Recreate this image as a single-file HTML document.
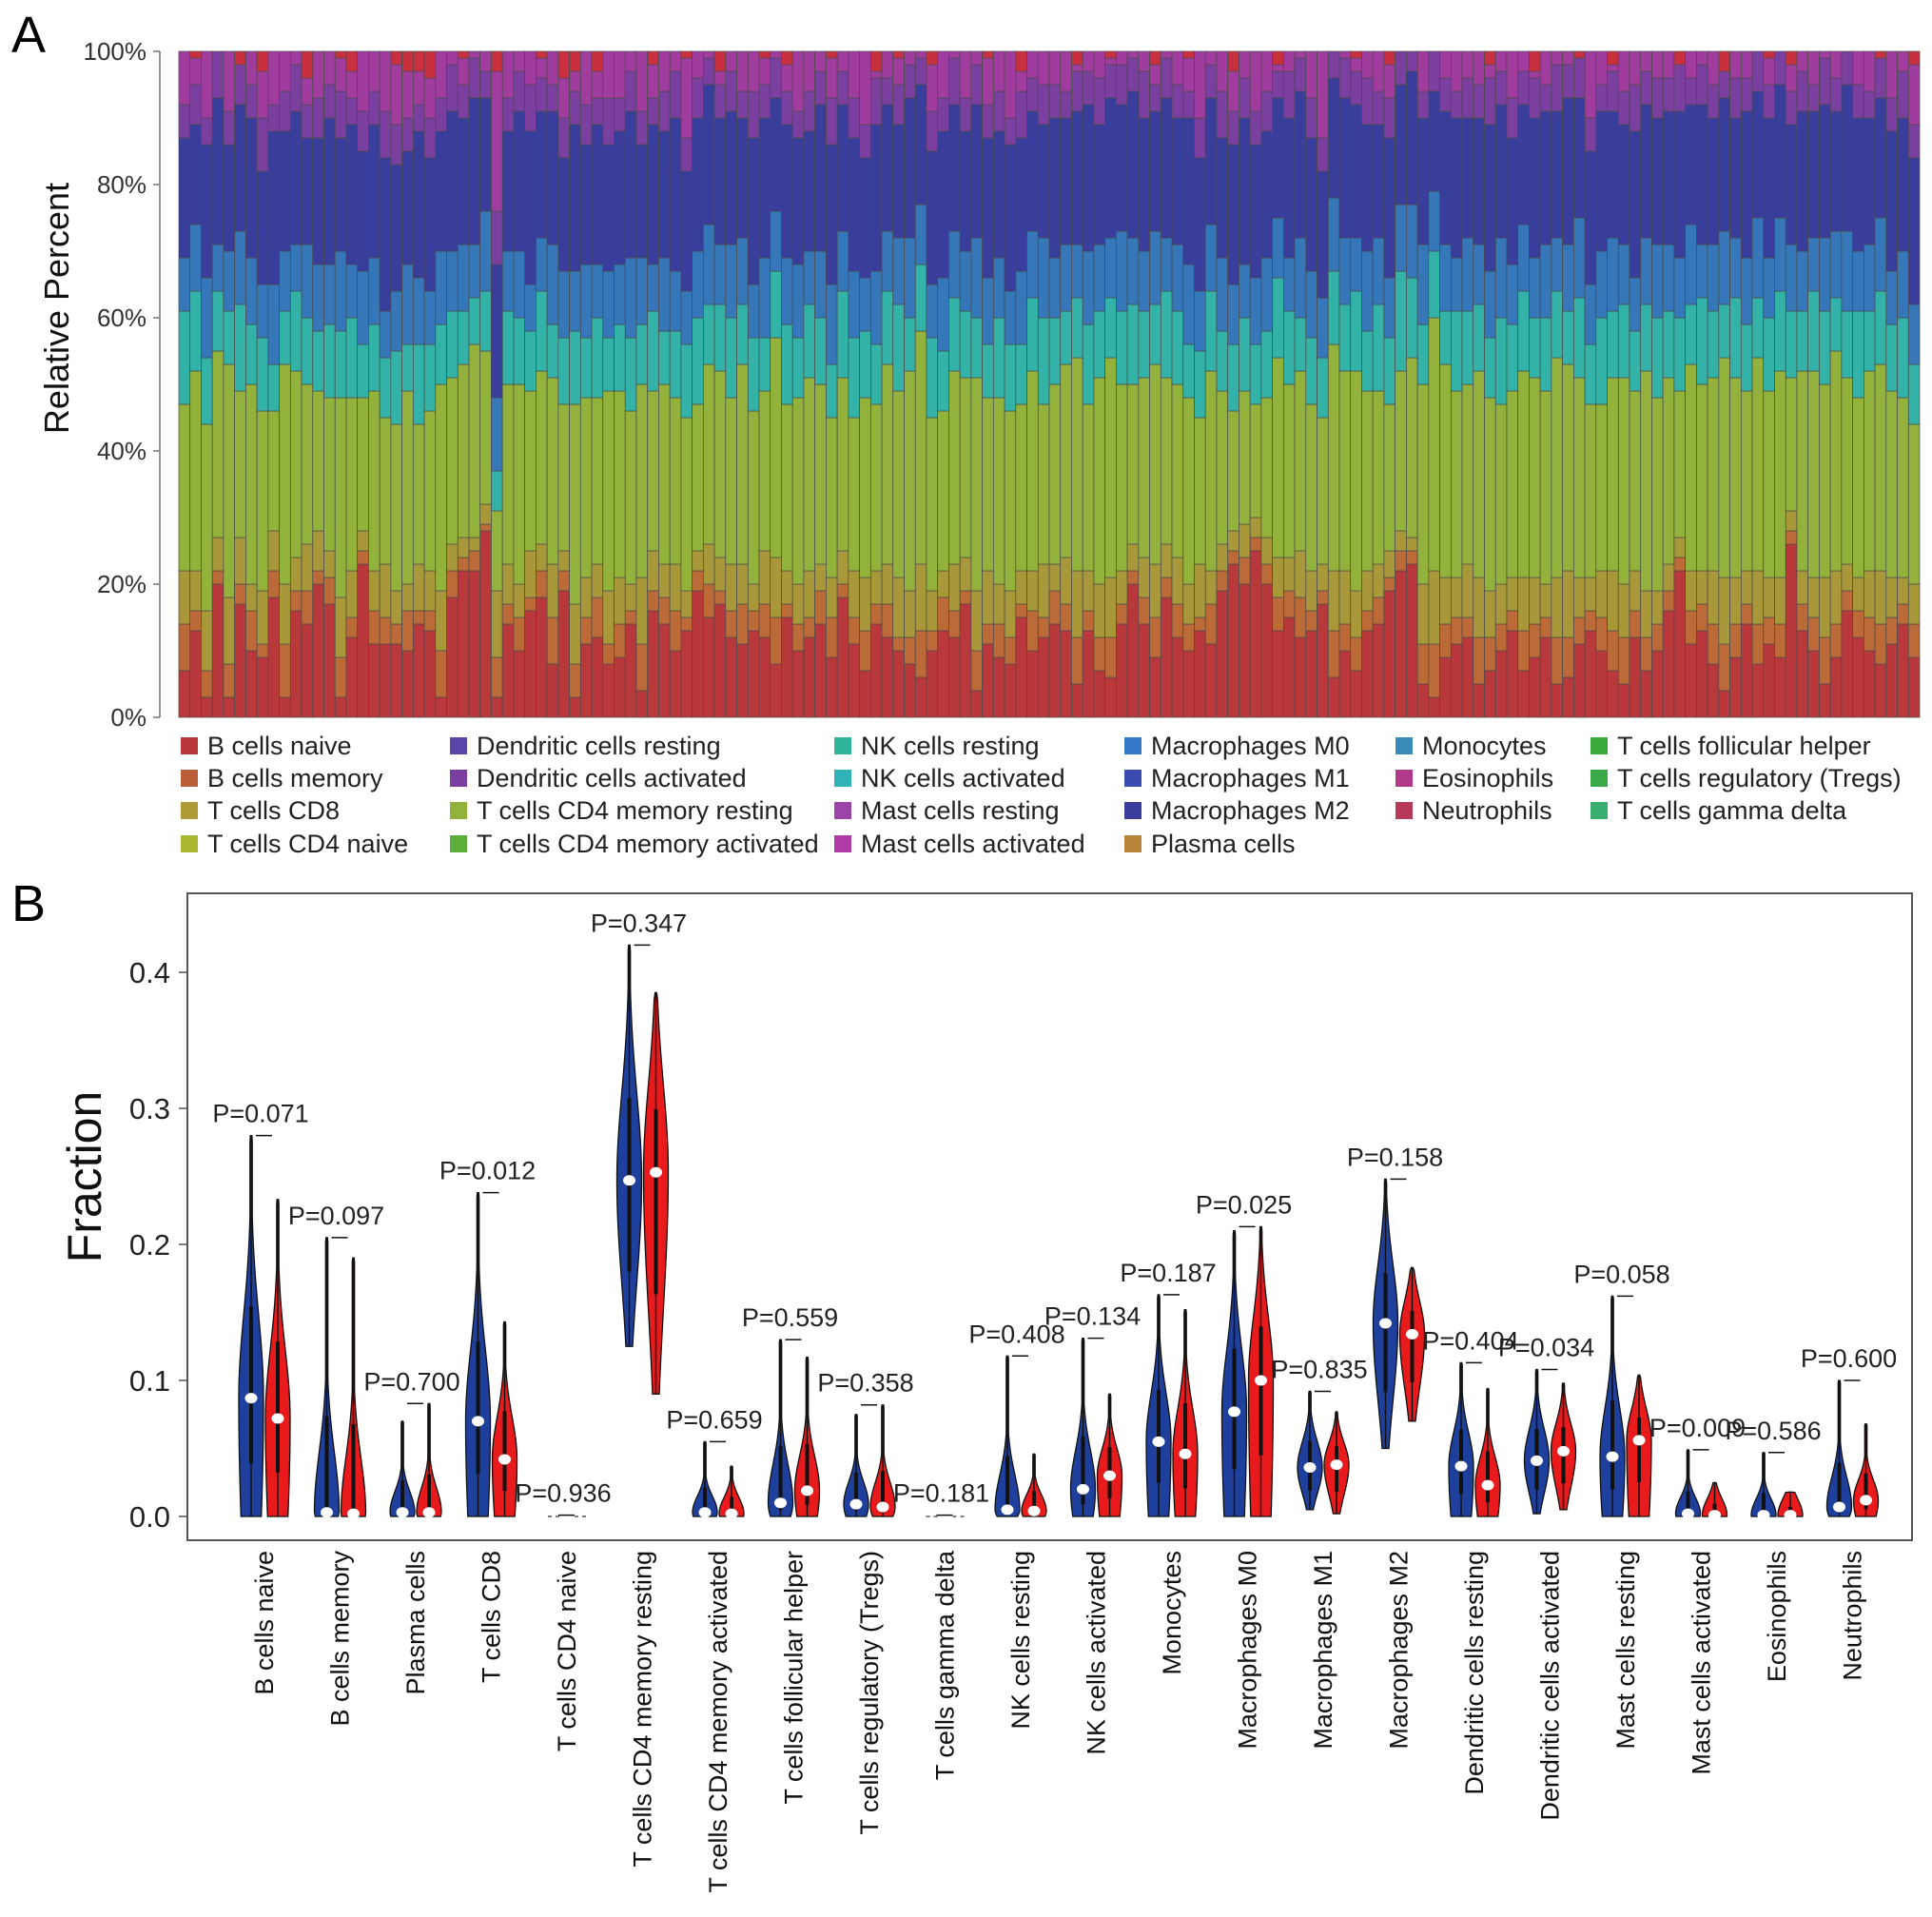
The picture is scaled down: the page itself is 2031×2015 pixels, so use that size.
<!DOCTYPE html>
<html><head><meta charset="utf-8"><style>
html,body{margin:0;padding:0;background:#fff}
svg{display:block;font-family:"Liberation Sans",sans-serif}
</style></head><body>
<svg id="fig" width="2031" height="2015" viewBox="0 0 2031 2015" xmlns="http://www.w3.org/2000/svg">
<text x="12" y="55" font-size="54">A</text>
<text x="12" y="968" font-size="54">B</text>
<g id="pa"></g>
<g id="leg"></g>
<g id="pb"></g>
</svg>
<script>
const NS="http://www.w3.org/2000/svg";
function mk(tag,attrs,parent,txt){const e=document.createElementNS(NS,tag);for(const k in attrs)e.setAttribute(k,attrs[k]);if(txt!==undefined)e.textContent=txt;parent.appendChild(e);return e;}

// ---------- Panel A data ----------
const bn=[7,13,3,20,3,17,10,9,18,3,16,14,20,17,3,12,23,11,11,11,10,14,13,3,18,22,22,28,3,14,10,16,18,8,19,3,11,12,8,9,14,4,16,14,10,13,19,15,17,12,11,13,12,8,15,10,12,14,9,18,11,7,14,12,10,8,6,10,13,12,17,4,11,9,8,15,10,12,14,13,5,13,7,6,14,20,14,9,18,12,10,13,11,19,23,20,25,20,13,15,12,13,17,6,10,7,13,14,19,22,23,5,3,9,11,12,5,7,10,13,7,9,12,5,6,11,13,10,7,5,12,7,10,16,22,11,13,8,4,9,14,8,11,9,26,13,10,5,9,16,12,10,8,11,14,9];
const bm=[7,3,4,2,5,3,6,2,4,8,3,5,2,4,6,3,2,5,4,3,6,2,3,7,4,2,3,1,6,3,5,2,4,7,3,5,4,6,3,5,2,7,3,4,6,2,3,5,2,4,6,3,5,7,2,4,3,5,6,2,4,6,3,5,2,4,7,3,5,4,2,6,3,5,4,2,6,3,5,4,7,3,5,6,3,2,4,6,3,5,4,2,6,3,2,4,2,3,5,4,6,3,2,7,4,5,3,4,2,3,2,6,8,5,4,3,7,5,4,3,6,5,3,7,6,4,3,5,6,7,4,5,4,3,2,5,4,6,7,5,3,6,4,5,2,4,5,7,5,3,4,5,6,4,3,5];
const cd8=[8,6,9,5,10,7,4,8,6,9,5,7,6,4,9,7,3,6,8,5,4,7,6,9,4,3,2,3,10,6,5,7,4,8,3,9,6,5,8,7,4,10,6,5,7,4,3,6,5,7,6,4,8,9,5,6,7,4,6,5,7,8,5,6,9,7,10,6,4,7,5,9,8,6,7,5,6,8,4,7,10,6,8,9,5,4,6,8,5,7,6,8,5,4,3,5,3,4,6,5,7,6,4,9,8,7,6,5,4,3,2,9,11,7,6,8,9,7,6,5,8,7,5,9,10,6,5,7,9,8,6,7,5,4,3,6,5,8,10,7,5,8,6,7,3,5,6,9,8,4,5,7,8,6,4,6];
const cd4=[25,30,28,28,35,22,30,27,18,33,28,24,21,23,30,26,20,27,22,25,29,21,24,31,25,26,29,23,12,27,30,24,26,28,22,30,27,25,30,28,26,29,24,27,25,26,22,27,28,25,30,26,24,33,25,28,29,27,24,26,23,27,25,30,28,33,35,26,24,29,27,32,26,28,27,25,30,24,27,29,32,25,31,33,28,24,27,30,25,26,28,22,30,23,18,20,17,21,30,26,27,25,22,34,30,33,27,26,22,24,27,30,38,32,28,27,31,29,27,28,31,30,29,33,31,30,26,25,29,31,27,33,29,28,22,31,28,29,33,30,27,32,28,31,20,30,31,29,33,28,27,30,31,28,27,24];
const tl=[14,12,10,9,8,13,9,11,7,8,12,10,9,11,10,12,8,10,9,11,7,12,10,9,10,8,7,9,6,11,10,9,12,8,10,11,9,12,8,10,11,9,12,8,10,11,13,9,10,12,9,11,8,10,12,9,11,10,8,13,12,10,9,11,13,8,10,12,9,11,10,9,8,12,10,9,11,13,10,8,9,12,10,9,11,12,10,9,13,11,8,10,12,9,10,11,9,10,12,11,8,10,9,11,10,12,9,13,10,15,12,9,10,8,12,11,10,9,13,10,12,9,11,10,8,12,9,13,10,11,9,10,12,10,11,9,13,10,8,12,10,9,11,12,10,9,12,11,8,10,13,9,11,10,12,9];
const m0=[8,10,12,7,9,11,10,8,12,9,7,11,10,9,12,8,11,10,7,9,12,10,8,11,9,10,8,12,11,9,10,7,8,12,10,9,11,8,10,9,12,10,7,11,9,8,10,12,9,11,10,8,12,9,10,11,8,10,12,9,10,8,11,9,10,12,9,8,11,10,9,12,10,9,8,11,10,12,9,10,8,11,10,9,12,10,9,11,8,10,12,9,10,11,9,8,10,11,9,8,12,10,9,11,10,8,12,10,9,10,11,12,9,10,8,11,9,10,12,9,10,9,11,8,10,12,9,10,11,9,8,10,11,10,9,12,8,10,11,9,10,12,9,11,10,9,8,11,10,12,9,10,11,8,10,9];
const m2=[18,15,20,22,16,19,21,17,23,18,20,16,19,22,17,21,18,20,23,19,17,22,20,18,21,19,22,17,20,18,21,23,19,20,17,22,18,21,19,20,22,17,21,19,23,18,20,21,19,20,18,22,21,17,20,19,18,22,21,19,20,18,22,19,17,21,18,20,22,19,18,20,21,19,22,20,18,17,21,19,20,22,18,21,19,22,20,18,21,19,22,20,19,18,21,22,20,19,18,21,22,20,19,18,21,20,19,17,21,18,20,19,15,20,21,18,19,22,20,19,18,21,20,19,22,18,20,21,19,18,22,20,19,20,22,18,21,19,20,18,22,19,21,20,18,21,19,20,18,22,20,19,18,21,20,22];
const pur=[5,6,4,7,5,6,5,8,4,6,7,5,6,5,7,4,6,5,7,6,5,4,6,5,7,5,6,4,8,5,6,7,5,4,6,5,6,4,7,5,6,5,4,6,7,5,6,4,5,6,4,7,5,6,5,4,6,5,7,5,6,5,7,4,6,5,4,6,5,7,5,6,5,6,4,7,5,6,5,4,6,5,7,5,6,5,7,4,6,5,4,6,5,7,5,6,5,6,4,7,5,6,5,4,6,5,7,5,6,5,7,4,6,5,4,6,5,7,5,6,5,6,4,7,5,6,5,4,6,5,7,5,6,5,7,4,6,5,4,6,5,7,5,6,5,6,4,7,5,6,5,4,6,5,7,5];
const nt=[0,1,0,0,0,4,0,3,0,0,0,4,0,0,1,3,0,0,0,2,3,3,4,0,0,1,0,0,3,0,0,0,1,0,4,3,0,3,0,0,0,0,2,0,0,1,0,0,3,0,0,0,1,0,2,0,0,0,1,0,0,0,3,0,1,0,0,2,0,0,0,0,1,0,0,3,0,0,0,0,2,0,0,1,0,0,0,2,0,0,1,0,0,0,3,0,0,0,2,0,0,0,0,3,0,1,0,0,2,0,0,0,3,0,0,0,0,2,0,0,0,3,0,0,0,1,0,0,2,0,0,0,0,0,2,0,0,0,3,0,0,0,1,0,2,0,0,0,0,3,0,0,1,0,0,2];
const yTicksA=[0,20,40,60,80,100];

const pa=document.getElementById('pa');
const AX0=188,AX1=2018,AY0=754,AY1=54;
const ya=v=>AY0-(v/100)*(AY0-AY1);
const nBars=bn.length,bw=(AX1-AX0)/nBars;
const xa=i=>AX0+i*bw;
const layers=[[bn,'#b8383c'],[bm,'#bb6a38'],[cd8,'#a8983a'],[cd4,'#93b23c'],[tl,'#33b3a8'],[m0,'#3577b8'],[m2,'#393d9c'],[pur,'#7b3f9f']];
for(let i=0;i<nBars;i++){
  let acc=0;
  const segs=layers.map(l=>[l[0][i],l[1]]);
  for(const [v,c] of segs){
    const top=Math.min(100,acc+v);
    const r=mk('rect',{x:xa(i),y:ya(top),width:bw,height:ya(acc)-ya(top),fill:c,stroke:'#4a4a4a','stroke-width':0.7},pa);
    
    
    acc=top;
  }
  const magTop=100-nt[i];
  if(magTop>acc){
    const r=mk('rect',{x:xa(i),y:ya(magTop),width:bw,height:ya(acc)-ya(magTop),fill:'#a03c9e',stroke:'#4a4a4a','stroke-width':0.7},pa);
    
    
    acc=magTop;
  }
  if(nt[i]>0){
    const r=mk('rect',{x:xa(i),y:ya(100),width:bw,height:ya(acc)-ya(100),fill:'#c8303f',stroke:'#4a4a4a','stroke-width':0.7},pa);
    
    
  }
}
const axA=mk('line',{x1:168,y1:AY1,x2:168,y2:AY0,stroke:'#777','stroke-width':1.5},pa);


yTicksA.forEach(t=>{
  const l=mk('line',{x1:161,x2:168,y1:ya(t),y2:ya(t),stroke:'#777','stroke-width':1.5},pa);
  
  
  const tx=mk('text',{x:154,y:ya(t)+9,'text-anchor':'end','font-size':26,fill:'#333'},pa,t+'%');
  
  
});
const ylab=mk('text',{x:0,y:0,transform:'translate(72,324) rotate(-90)','text-anchor':'middle','font-size':36,fill:'#111'},pa,'Relative Percent');



// ---------- Legend ----------
const legNames=[['B cells naive','B cells memory','T cells CD8','T cells CD4 naive'],['Dendritic cells resting','Dendritic cells activated','T cells CD4 memory resting','T cells CD4 memory activated'],['NK cells resting','NK cells activated','Mast cells resting','Mast cells activated'],['Macrophages M0','Macrophages M1','Macrophages M2','Plasma cells'],['Monocytes','Eosinophils','Neutrophils'],['T cells follicular helper','T cells regulatory (Tregs)','T cells gamma delta']];
const legCols=[['#b8383c','#bb5f3a','#b09a35','#aab833'],['#5a45a8','#7b3f9f','#93b23c','#5cae3a'],['#2fb39a','#2fb3b8','#9b45a8','#b03aa6'],['#3577c8','#3b4cb0','#3a3d9c','#b8843a'],['#3a8ab8','#b03a8a','#b8385a'],['#3aaa3a','#3aaa48','#3ab070']];
const legX=[190,473,877,1182,1467,1672],legY=[784,818,852,887];
const leg=document.getElementById('leg');
legNames.forEach((col,ci)=>col.forEach((n,ri)=>{
  const g=mk('g',{},leg);
  
  
  mk('rect',{x:legX[ci],y:legY[ri]-9,width:18,height:18,fill:legCols[ci][ri]},g);
  mk('text',{x:legX[ci]+28,y:legY[ri]+9,'font-size':27,fill:'#222'},g,n);
}));

// ---------- Panel B data ----------
const cats=['B cells naive','B cells memory','Plasma cells','T cells CD8','T cells CD4 naive','T cells CD4 memory resting','T cells CD4 memory activated','T cells follicular helper','T cells regulatory (Tregs)','T cells gamma delta','NK cells resting','NK cells activated','Monocytes','Macrophages M0','Macrophages M1','Macrophages M2','Dendritic cells resting','Dendritic cells activated','Mast cells resting','Mast cells activated','Eosinophils','Neutrophils'];
const pvals=['0.071','0.097','0.700','0.012','0.936','0.347','0.659','0.559','0.358','0.181','0.408','0.134','0.187','0.025','0.835','0.158','0.404','0.034','0.058','0.009','0.586','0.600'];
const blueMax=[0.28,0.205,0.07,0.238,0.001,0.42,0.055,0.13,0.075,0.001,0.118,0.131,0.163,0.21,0.092,0.248,0.113,0.108,0.162,0.049,0.047,0.1];
const blueMin=[0,0,0,0,0,0.125,0,0,0,0,0,0,0,0,0.005,0.05,0,0.002,0,0,0,0];
const blueMed=[0.087,0.003,0.003,0.07,0,0.247,0.003,0.01,0.009,0,0.005,0.02,0.055,0.077,0.036,0.142,0.037,0.041,0.044,0.002,0.001,0.007];
const redMax=[0.233,0.19,0.083,0.143,0.001,0.385,0.037,0.117,0.082,0.001,0.046,0.09,0.152,0.213,0.077,0.183,0.094,0.098,0.104,0.025,0.018,0.068];
const redMin=[0,0,0,0,0,0.09,0,0,0,0,0,0,0,0,0.002,0.07,0,0.005,0,0,0,0];
const redMed=[0.072,0.002,0.003,0.042,0,0.253,0.002,0.019,0.007,0,0.004,0.03,0.046,0.1,0.038,0.134,0.023,0.048,0.056,0.001,0.001,0.012];
const yTicksB=[0,0.1,0.2,0.3,0.4];

const pb=document.getElementById('pb');
const BX0=197,BX1=2010,BY0=939,BY1=1619;
const yb=v=>1594-v*1430;
const xb=i=>278+i*79.5;
const frame=mk('rect',{x:BX0,y:BY0,width:BX1-BX0,height:BY1-BY0,fill:'none',stroke:'#555','stroke-width':2},pb);


yTicksB.forEach(t=>{
  const l=mk('line',{x1:BX0-9,x2:BX0,y1:yb(t),y2:yb(t),stroke:'#555','stroke-width':1.5},pb);
  
  
  const tx=mk('text',{x:BX0-18,y:yb(t)+11,'text-anchor':'end','font-size':31,fill:'#222'},pb,t.toFixed(1));
  
  
});
const fl=mk('text',{x:0,y:0,transform:'translate(106,1237) rotate(-90)','text-anchor':'middle','font-size':50,fill:'#111'},pb,'Fraction');



function violin(cx,mn,mx,med,color,name){
  const g=mk('g',{},pb);
  
  
  if(mx-mn<0.003){
    mk('line',{x1:cx-6,x2:cx+6,y1:yb(0),y2:yb(0),stroke:'#555','stroke-width':1.5,'stroke-dasharray':'4 4'},g);
    return;
  }
  const W=13,N=60,sd=Math.max(0.012,(mx-mn)*0.22);
  const pts=[];
  for(let k=0;k<=N;k++){
    const v=mn+(mx-mn)*k/N;
    let d;
    if(v<med){d=(v-med)/(Math.max(med-mn,0.005)*(mn>0.001?1.0:2.6));}
    else d=(v-med)/(sd*1.6);
    let w=W*Math.exp(-d*d*1.3);
    w=Math.max(w,1.2);
    if(k===N)w=0.8;
    pts.push([v,w]);
  }
  let dstr='M'+(cx-pts[0][1])+','+yb(pts[0][0]);
  pts.forEach(p=>dstr+=' L'+(cx-p[1])+','+yb(p[0]));
  for(let k=pts.length-1;k>=0;k--)dstr+=' L'+(cx+pts[k][1])+','+yb(pts[k][0]);
  dstr+='Z';
  mk('path',{d:dstr,fill:color,stroke:'#111','stroke-width':1.3},g);
  mk('line',{x1:cx,x2:cx,y1:yb(mn),y2:yb(mx),stroke:'#111','stroke-width':1.5},g);
  const q1=mn+(med-mn)*0.45,q3=med+(mx-med)*0.35;
  mk('line',{x1:cx,x2:cx,y1:yb(q1),y2:yb(q3),stroke:'#111','stroke-width':4},g);
  mk('ellipse',{cx:cx,cy:yb(med),rx:6.5,ry:5.5,fill:'#fff'},g);
}
cats.forEach((c,i)=>{
  const cx=xb(i);
  violin(cx-14,blueMin[i],blueMax[i],blueMed[i],'#1f3f9c','violin-normal-'+i);
  violin(cx+14,redMin[i],redMax[i],redMed[i],'#e81a1c','violin-tumor-'+i);
  const top=Math.max(blueMax[i],redMax[i]);
  const bl=mk('line',{x1:cx-9,x2:cx+8,y1:yb(top),y2:yb(top),stroke:'#111','stroke-width':1.5},pb);
  
  
  const pt=mk('text',{x:cx-4,y:yb(top)-14,'text-anchor':'middle','font-size':27,fill:'#222'},pb,'P='+pvals[i]);
  
  
  const xl=mk('text',{x:0,y:0,transform:'translate('+(cx+9)+',1630) rotate(-90)','text-anchor':'end','font-size':27,fill:'#111'},pb,c);
  
  
});
</script>
</body></html>
